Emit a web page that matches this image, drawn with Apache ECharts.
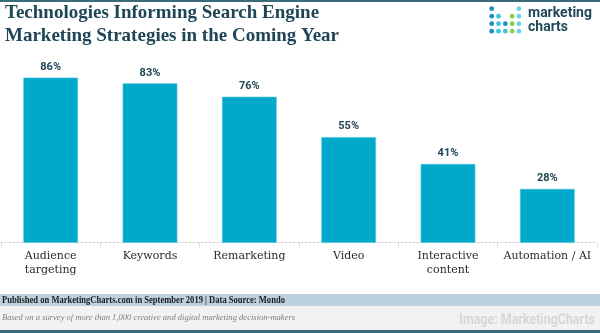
<!DOCTYPE html>
<html><head><meta charset="utf-8">
<script src="https://cdn.jsdelivr.net/npm/echarts@6/dist/echarts.min.js"></script>
<style>html,body{margin:0;padding:0;background:#fff}#c{width:600px;height:333px}</style>
</head><body><div id="c"></div>
<script>
const categories = ['Audience\ntargeting', 'Keywords', 'Remarketing', 'Video', 'Interactive\ncontent', 'Automation / AI'];
const values = [86, 83, 76, 55, 41, 28];
const titleLines = ['Technologies Informing Search Engine', 'Marketing Strategies in the Coming Year'];
const sourceText = 'Published on MarketingCharts.com in September 2019 | Data Source: Mondo';
const noteText = 'Based on a survey of more than 1,000 creative and digital marketing decision-makers';
const creditText = 'Image: MarketingCharts';

const chart = echarts.init(document.getElementById('c'), null, {renderer: 'canvas'});

// logo dots: [col,row,color]
const dotColors = {b: '#1b8fc2', t: '#3fc3d6', l: '#66d6db', g: '#8cce4a'};
const logoDots = [
  [0,0,'b'],[4,0,'l'],
  [0,1,'b'],[1,1,'t'],[3,1,'g'],[4,1,'l'],
  [0,2,'b'],[1,2,'t'],[2,2,'b'],[3,2,'g'],[4,2,'l'],
  [0,3,'b'],[1,3,'t'],[2,3,'t'],[3,3,'g'],[4,3,'l']
];
const dotEls = logoDots.map(d => ({
  type: 'circle', shape: {cx: 491.7 + d[0]*6.8, cy: 8.7 + d[1]*7.5, r: 2.4},
  style: {fill: dotColors[d[2]]}, silent: true
}));

const titleFont = 'bold 19px "Liberation Serif", serif';
chart.setOption({
  animation: false,
  grid: {left: 1, right: 3, top: 50.7, bottom: 90.3, containLabel: false},
  xAxis: {
    type: 'category', data: categories,
    axisLine: {show: true, lineStyle: {color: '#cfcfcf', type: [2, 2], width: 1}},
    axisTick: {show: true, length: 5, lineStyle: {color: '#dcdcdc'}},
    axisLabel: {color: '#2a2a2a', fontFamily: '"DejaVu Serif", serif', fontSize: 11, lineHeight: 14, margin: 6, interval: 0}
  },
  yAxis: {type: 'value', min: 0, max: 100, show: false, splitLine: {show: false}},
  series: [{
    type: 'bar', data: values, barWidth: '55%',
    itemStyle: {color: '#00a9c9', borderColor: '#4cc3da', borderWidth: 0.6},
    label: {show: true, position: 'top', distance: 5, formatter: '{c}%', color: '#1f4456',
      fontFamily: 'Roboto, sans-serif', fontWeight: 'bold', fontSize: 11}
  }],
  graphic: [
    {type: 'rect', shape: {x: 0, y: 0, width: 600, height: 2}, style: {fill: '#3b6a7a'}, silent: true},
    {type: 'text', style: {x: 5, y: 13.4, text: titleLines[0], font: titleFont, fill: '#1e4656', textVerticalAlign: 'middle'}},
    {type: 'text', style: {x: 5, y: 36.4, text: titleLines[1], font: titleFont, fill: '#1e4656', textVerticalAlign: 'middle'}},
    ...dotEls,
    {type: 'text', style: {x: 528, y: 13.1, text: 'marketing', font: 'bold 14px Roboto, sans-serif', fill: '#1f4a5a', textVerticalAlign: 'middle'}},
    {type: 'text', style: {x: 528, y: 27.1, text: 'charts', font: 'bold 14px Roboto, sans-serif', fill: '#1f4a5a', textVerticalAlign: 'middle'}},
    {type: 'rect', shape: {x: 0, y: 294, width: 600, height: 12}, style: {fill: '#bcd3df'}, silent: true},
    {type: 'rect', shape: {x: 0, y: 306, width: 600, height: 24}, style: {fill: '#f2f2f2'}, silent: true},
    {type: 'rect', shape: {x: 0, y: 330, width: 600, height: 3}, style: {fill: '#3b6a7a'}, silent: true},
    {type: 'text', x: 2, y: 300.6, scaleX: 0.9, style: {x: 0, y: 0, text: sourceText, font: 'bold 9.5px "Liberation Serif", serif', fill: '#1a1a1a', textVerticalAlign: 'middle'}},
    {type: 'text', x: 2, y: 317.5, scaleX: 0.95, style: {x: 0, y: 0, text: noteText, font: 'italic 9px "Liberation Serif", serif', fill: '#808080', textVerticalAlign: 'middle'}},
    {type: 'text', x: 595, y: 320.7, scaleX: 0.83, style: {x: 0, y: 0, text: creditText, font: 'bold 15px Roboto, sans-serif', fill: '#d6d6d6', textAlign: 'right', textVerticalAlign: 'middle'}}
  ]
});
</script></body></html>
